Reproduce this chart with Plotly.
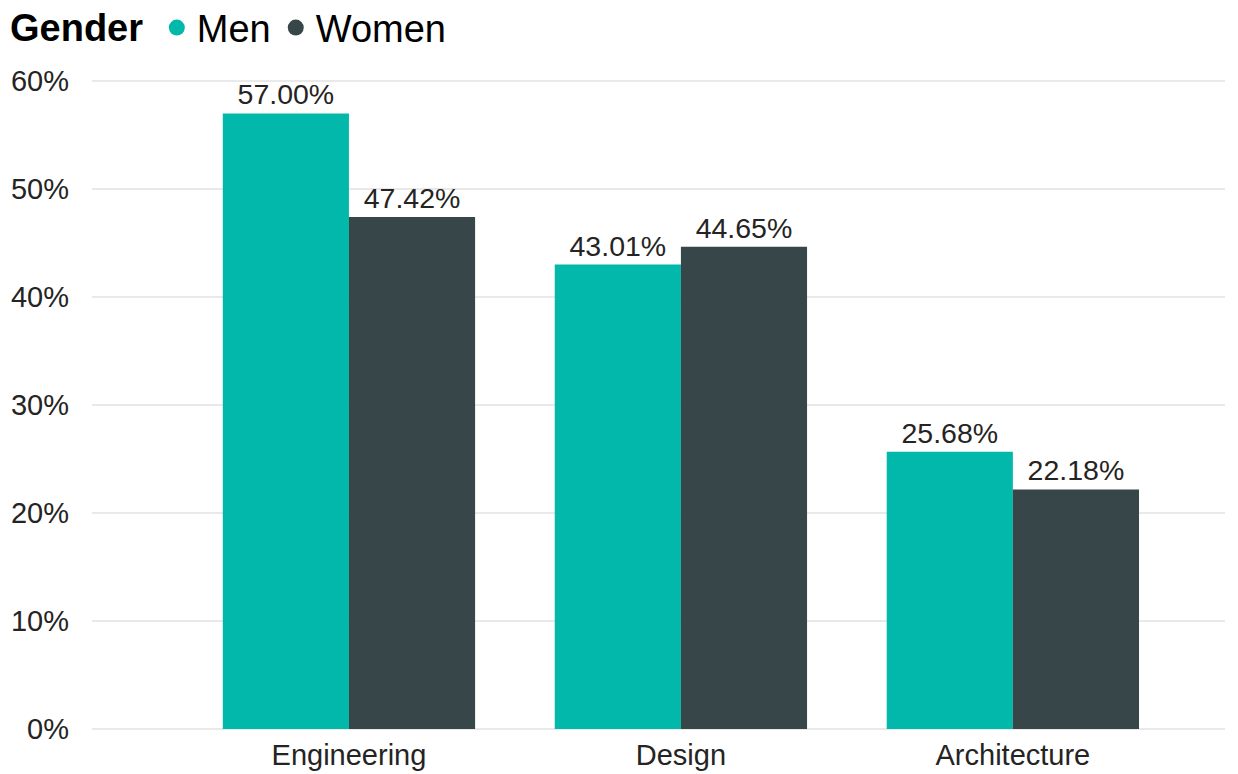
import plotly.graph_objects as go

categories = ["Engineering", "Design", "Architecture"]
men = [57.00, 43.01, 25.68]
women = [47.42, 44.65, 22.18]
series_names = ["Men", "Women"]
colors = ["#01B8AA", "#374649"]
y_ticks = [0, 10, 20, 30, 40, 50, 60]
y_tick_labels = [f"{v}%" for v in y_ticks]

fig = go.Figure()
for name, vals, col in zip(series_names, [men, women], colors):
    fig.add_trace(go.Bar(
        x=categories, y=vals, name=name,
        marker=dict(color=col, line=dict(width=0)),
        text=[f"{v:.2f}%" for v in vals], textposition="outside",
        textfont=dict(size=28.5, color="#252423"), cliponaxis=False,
        showlegend=False,
    ))
    fig.add_trace(go.Scatter(
        x=[None], y=[None], mode="markers", name=name,
        marker=dict(symbol="circle", size=19, color=col),
    ))

# legend title drawn as its own text so it lines up with the items
fig.add_annotation(
    text="<b>Gender</b>", xref="paper", yref="paper",
    x=-0.0735, y=1.080, xanchor="left", yanchor="middle",
    showarrow=False, borderpad=0, font=dict(size=38, color="#000000"),
)

# the page body has an 8px default margin; compensate so the plot lands in place
fig.update_layout(
    template="none",
    width=1230, height=766,
    margin=dict(l=84, r=13, t=72, b=45, autoexpand=False),
    paper_bgcolor="white", plot_bgcolor="white",
    font=dict(family="Liberation Sans, Arial, sans-serif", size=29, color="#252423"),
    barmode="group", bargap=0.24, bargroupgap=0,
    showlegend=True,
    legend=dict(
        orientation="h", xref="container", yref="container",
        x=0.121, y=0.974, xanchor="left", yanchor="middle",
        font=dict(size=38, color="#000000"),
        itemsizing="trace", tracegroupgap=0, itemwidth=30,
        bgcolor="rgba(0,0,0,0)",
    ),
    xaxis=dict(
        type="category", range=[-0.774, 2.639],
        showgrid=False, showline=False, ticks="", zeroline=False,
        tickfont=dict(size=29, color="#252423"),
        ticklabelstandoff=6,
        automargin=False,
    ),
    yaxis=dict(
        range=[0, 60.1], tickvals=y_ticks, ticktext=y_tick_labels,
        showgrid=True, gridcolor="#E9E9E9", gridwidth=2,
        zeroline=True, zerolinecolor="#E9E9E9", zerolinewidth=2,
        showline=False, ticks="", ticklabelstandoff=22,
        tickfont=dict(size=29, color="#252423"),
        automargin=False,
    ),
)

fig.write_html("out.html")
